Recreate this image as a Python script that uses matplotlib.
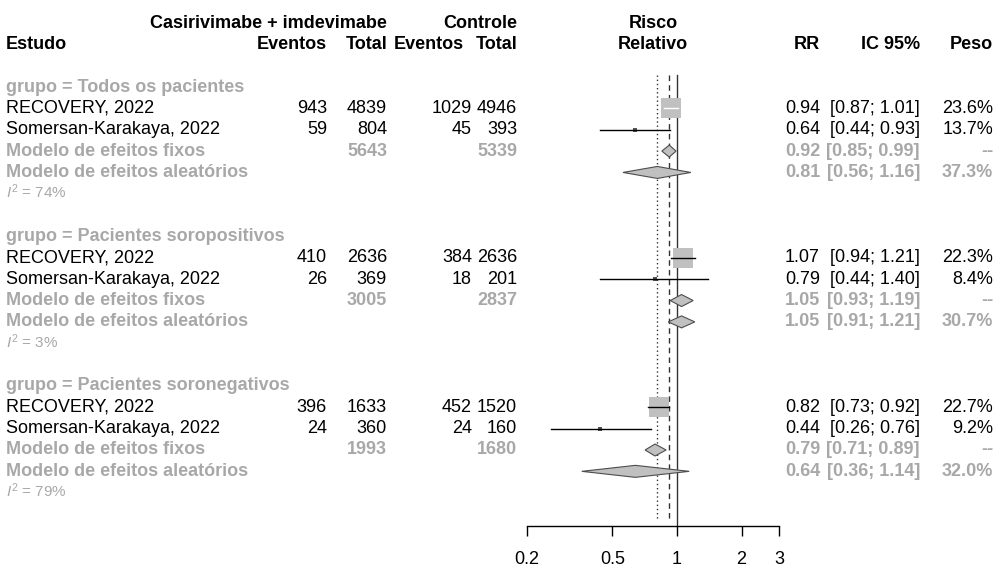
import numpy as np
import matplotlib
matplotlib.use('Agg')
import matplotlib.pyplot as plt
from matplotlib.patches import Polygon

plt.rcParams['font.family'] = ['Liberation Sans', 'DejaVu Sans']
plt.rcParams['mathtext.fontset'] = 'custom'
plt.rcParams['mathtext.rm'] = 'Liberation Sans'
plt.rcParams['mathtext.it'] = 'Liberation Sans:italic'

# data
groups  = ['Todos os pacientes', 'Pacientes soropositivos', 'Pacientes soronegativos']
studies = ['RECOVERY, 2022', 'Somersan-Karakaya, 2022']

ev_trt = [[943, 59], [410, 26], [396, 24]]
n_trt  = [[4839, 804], [2636, 369], [1633, 360]]
ev_ctl = [[1029, 45], [384, 18], [452, 24]]
n_ctl  = [[4946, 393], [2636, 201], [1520, 160]]

rr_study = [[0.94, 0.64], [1.07, 0.79], [0.82, 0.44]]
lo_study = [[0.87, 0.44], [0.94, 0.44], [0.73, 0.26]]
hi_study = [[1.01, 0.93], [1.21, 1.40], [0.92, 0.76]]
peso_study = [['23.6%', '13.7%'], ['22.3%', '8.4%'], ['22.7%', '9.2%']]

rr_fixed = [0.92, 1.05, 0.79]
lo_fixed = [0.85, 0.93, 0.71]
hi_fixed = [0.99, 1.19, 0.89]

rr_random = [0.81, 1.05, 0.64]
lo_random = [0.56, 0.91, 0.36]
hi_random = [1.16, 1.21, 1.14]
peso_random = ['37.3%', '30.7%', '32.0%']

i2_values = [74, 3, 79]

overall_fixed = 0.92
overall_random = 0.81

ticks = [0.2, 0.5, 1, 2, 3]
tick_labels = ['0.2', '0.5', '1', '2', '3']

# layout (pixel rows)
W, H = 995, 570
y0, dy = 23, 21.35
fs = 13
gray = '#a8a8a8'
sq_gray = '#c0c0c0'

fig = plt.figure(figsize=(W / 100, H / 100), dpi=100)
ax = fig.add_axes([0, 0, 1, 1])
ax.set_xlim(0, W)
ax.set_ylim(H, 0)
ax.axis('off')

x_left = 6
x_ev_t, x_n_t, x_ev_c, x_n_c = 327, 387, 472, 517
x_rr, x_ci, x_peso = 820, 920, 993

# headers
hdr = dict(fontsize=fs, fontweight='bold', va='center', ha='right')
ax.text(x_n_t, y0, 'Casirivimabe + imdevimabe', **hdr)
ax.text(x_n_c, y0, 'Controle', **hdr)
ax.text(653, y0, 'Risco', fontsize=fs, fontweight='bold', va='center', ha='center')
ax.text(x_left, y0 + dy, 'Estudo', fontsize=fs, fontweight='bold', va='center', ha='left')
ax.text(x_ev_t, y0 + dy, 'Eventos', **hdr)
ax.text(x_n_t, y0 + dy, 'Total', **hdr)
ax.text(464, y0 + dy, 'Eventos', **hdr)
ax.text(x_n_c, y0 + dy, 'Total', **hdr)
ax.text(653, y0 + dy, 'Relativo', fontsize=fs, fontweight='bold', va='center', ha='center')
ax.text(x_rr, y0 + dy, 'RR', **hdr)
ax.text(x_ci, y0 + dy, 'IC 95%', **hdr)
ax.text(x_peso, y0 + dy, 'Peso', **hdr)

# forest axes, log scale, sharing the pixel rows
x0_f = 527
px_per_decade = 214.6
f_width = px_per_decade * np.log10(3 / 0.2)
axf = fig.add_axes([x0_f / W, 0, f_width / W, 1])
axf.set_xscale('log')
axf.set_xlim(0.2, 3)
axf.set_ylim(H, 0)
axf.patch.set_alpha(0)
for s in ['top', 'left', 'right']:
    axf.spines[s].set_visible(False)
axf.spines['bottom'].set_position(('data', 526))
axf.spines['bottom'].set_bounds(0.2, 3)
axf.spines['bottom'].set_linewidth(1.0)
axf.set_yticks([])
axf.set_xticks(ticks)
axf.set_xticklabels(tick_labels, fontsize=fs)
axf.xaxis.set_minor_locator(matplotlib.ticker.NullLocator())
axf.tick_params(axis='x', direction='out', length=7.2, width=1.0, pad=11)

axf.plot([1, 1], [75, 526], color='#333333', lw=1.0)
axf.plot([overall_fixed] * 2, [75, 520], color='#333333', lw=1.0, ls=(0, (4, 3)))
axf.plot([overall_random] * 2, [75, 520], color='#333333', lw=1.0, ls=(0, (1, 2)))

fig.canvas.draw()


def to_px(v):
    return axf.transData.transform((v, 0))[0]


max_side = 19.5
half_h = 6

for g in range(len(groups)):
    base = 3 + 7 * g
    yg = y0 + base * dy
    ax.text(x_left, yg, 'grupo = ' + groups[g], fontsize=fs, fontweight='bold',
            color=gray, va='center', ha='left')

    # inverse variance weights inside the group -> box size
    w = []
    for k in range(len(studies)):
        var = (1 / ev_trt[g][k] - 1 / n_trt[g][k] + 1 / ev_ctl[g][k] - 1 / n_ctl[g][k])
        w.append(1 / var)
    w = np.array(w) / np.sum(w)

    for k, name in enumerate(studies):
        y = y0 + (base + 1 + k) * dy
        ax.text(x_left, y, name, fontsize=fs, va='center', ha='left')
        ax.text(x_ev_t, y, str(ev_trt[g][k]), fontsize=fs, va='center', ha='right')
        ax.text(x_n_t, y, str(n_trt[g][k]), fontsize=fs, va='center', ha='right')
        ax.text(x_ev_c, y, str(ev_ctl[g][k]), fontsize=fs, va='center', ha='right')
        ax.text(x_n_c, y, str(n_ctl[g][k]), fontsize=fs, va='center', ha='right')
        ax.text(x_rr, y, f'{rr_study[g][k]:.2f}', fontsize=fs, va='center', ha='right')
        ax.text(x_ci, y, f'[{lo_study[g][k]:.2f}; {hi_study[g][k]:.2f}]',
                fontsize=fs, va='center', ha='right')
        ax.text(x_peso, y, peso_study[g][k], fontsize=fs, va='center', ha='right')

        side = max(max_side * np.sqrt(w[k]), 3.5)
        small = side < 6
        axf.scatter([rr_study[g][k]], [y], marker='s', s=(side * 0.72) ** 2,
                    color='#555555' if small else sq_gray, linewidths=0, zorder=3)
        c = to_px(rr_study[g][k])
        inside = (to_px(lo_study[g][k]) >= c - side / 2) and (to_px(hi_study[g][k]) <= c + side / 2)
        axf.plot([lo_study[g][k], hi_study[g][k]], [y, y],
                 color='white' if inside else 'black', lw=1.0, zorder=4)

    # fixed effect row
    y = y0 + (base + 3) * dy
    gb = dict(fontsize=fs, fontweight='bold', color=gray, va='center')
    ax.text(x_left, y, 'Modelo de efeitos fixos', ha='left', **gb)
    ax.text(x_n_t, y, str(sum(n_trt[g])), ha='right', **gb)
    ax.text(x_n_c, y, str(sum(n_ctl[g])), ha='right', **gb)
    ax.text(x_rr, y, f'{rr_fixed[g]:.2f}', ha='right', **gb)
    ax.text(x_ci, y, f'[{lo_fixed[g]:.2f}; {hi_fixed[g]:.2f}]', ha='right', **gb)
    ax.text(x_peso, y, '--', ha='right', **gb)
    axf.add_patch(Polygon([(lo_fixed[g], y), (rr_fixed[g], y - half_h),
                           (hi_fixed[g], y), (rr_fixed[g], y + half_h)],
                          closed=True, facecolor=sq_gray, edgecolor='#4d4d4d',
                          lw=0.8, zorder=5))

    # random effects row
    y = y0 + (base + 4) * dy
    ax.text(x_left, y, 'Modelo de efeitos aleatórios', ha='left', **gb)
    ax.text(x_rr, y, f'{rr_random[g]:.2f}', ha='right', **gb)
    ax.text(x_ci, y, f'[{lo_random[g]:.2f}; {hi_random[g]:.2f}]', ha='right', **gb)
    ax.text(x_peso, y, peso_random[g], ha='right', **gb)
    axf.add_patch(Polygon([(lo_random[g], y), (rr_random[g], y - half_h),
                           (hi_random[g], y), (rr_random[g], y + half_h)],
                          closed=True, facecolor=sq_gray, edgecolor='#4d4d4d',
                          lw=0.8, zorder=5))

    # heterogeneity
    y = y0 + (base + 5) * dy - 2
    ax.text(x_left, y, f'$I^2$ = {i2_values[g]}%', fontsize=11, color=gray,
            va='center', ha='left')

fig.savefig('out.png', dpi=100)
